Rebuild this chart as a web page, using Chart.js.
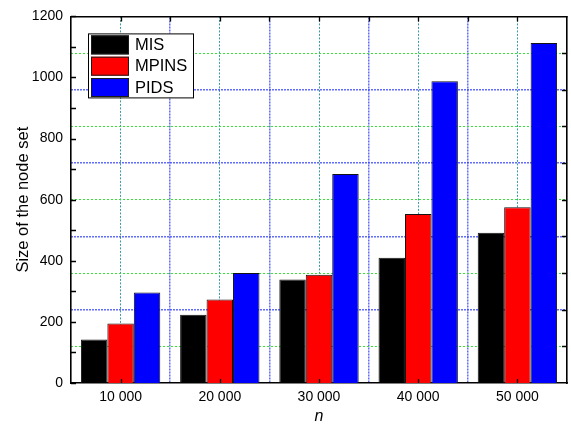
<!DOCTYPE html>
<html>
<head>
<meta charset="utf-8">
<script src="https://cdn.jsdelivr.net/npm/chart.js@4.4.1/dist/chart.umd.min.js"></script>
<style>
  html, body { margin: 0; padding: 0; background: #ffffff; }
  #wrap { width: 571px; height: 425px; position: relative; }
</style>
</head>
<body>
<div id="wrap"><canvas id="c" width="571" height="425"></canvas></div>
<script>
// Network sizes n and the size of the node set found by each method
const nValues = [10000, 20000, 30000, 40000, 50000];
const seriesNames = ['MIS', 'MPINS', 'PIDS'];
const misSizes = [142, 223, 339, 410, 492];
const mpinsSizes = [195, 273, 354, 553, 575];
const pidsSizes = [296, 360, 684, 988, 1113];
const seriesColors = ['#000000', '#ff0000', '#0000ff'];

// Axis ticks
const yLabelTicks = [0, 200, 400, 600, 800, 1000, 1200];
const yMinorMarks = [0, 100, 200, 300, 400, 500, 600, 700, 800, 900, 1000, 1100, 1200];
const yGridTicks = [120, 240, 360, 480, 600, 720, 840, 960, 1080];
const xBoundaryTicks = [15000, 25000, 35000, 45000];
const xTopMarks = [10000, 15000, 20000, 25000, 30000, 35000, 40000, 45000, 50000];

const FONT = "'Liberation Sans', Arial, sans-serif";

function groupThousands(v) {
  return String(v).replace(/\B(?=(\d{3})+(?!\d))/g, ' ');
}

const seriesValues = [misSizes, mpinsSizes, pidsSizes];
const datasets = seriesNames.map((name, s) => ({
  label: name,
  data: nValues.map((n, i) => ({ x: n, y: seriesValues[s][i] })),
  backgroundColor: seriesColors[s],
  borderColor: '#141414',
  borderWidth: 1,
  categoryPercentage: 0.8,
  barPercentage: 1.0,
  xAxisID: 'x',
  yAxisID: 'y'
}));

// Inward tick marks on all four sides
const tickMarks = {
  id: 'tickMarks',
  afterDraw(chart) {
    const { ctx, chartArea: a } = chart;
    const y = chart.scales.y, x = chart.scales.x;
    ctx.save();
    ctx.strokeStyle = '#000';
    ctx.lineWidth = 1.3;
    ctx.beginPath();
    yMinorMarks.forEach(v => {
      const p = Math.round(y.getPixelForValue(v)) + 0.5;
      ctx.moveTo(a.left, p); ctx.lineTo(a.left + 5, p);
    });
    yGridTicks.forEach(v => {
      const p = Math.round(y.getPixelForValue(v)) + 0.5;
      ctx.moveTo(a.right, p); ctx.lineTo(a.right - 5, p);
    });
    xTopMarks.forEach(v => {
      const p = Math.round(x.getPixelForValue(v)) + 0.5;
      ctx.moveTo(p, a.top); ctx.lineTo(p, a.top + 5);
    });
    nValues.forEach(v => {
      const p = Math.round(x.getPixelForValue(v)) + 0.5;
      ctx.moveTo(p, a.bottom); ctx.lineTo(p, a.bottom - 4);
    });
    ctx.stroke();
    ctx.restore();
  }
};

// Legend box in the upper-left of the plot area
const boxLegend = {
  id: 'boxLegend',
  afterDraw(chart) {
    const { ctx, chartArea: a } = chart;
    const bx = a.left + 17, by = a.top + 17, bw = 105, bh = 64;
    ctx.save();
    ctx.fillStyle = '#ffffff';
    ctx.fillRect(bx, by, bw, bh);
    ctx.strokeStyle = '#000';
    ctx.lineWidth = 1;
    ctx.strokeRect(bx + 0.5, by + 0.5, bw, bh);
    ctx.font = '16.5px ' + FONT;
    ctx.textBaseline = 'middle';
    ctx.textAlign = 'left';
    chart.data.datasets.forEach((ds, i) => {
      const sy = by + 2 + i * 21.3;
      ctx.fillStyle = ds.backgroundColor;
      ctx.fillRect(bx + 3, sy, 38, 19);
      ctx.strokeStyle = '#1a1a1a';
      ctx.strokeRect(bx + 3.5, sy + 0.5, 37, 18);
      ctx.fillStyle = '#000';
      ctx.fillText(ds.label, bx + 47, sy + 10);
    });
    ctx.restore();
  }
};

const blueLine = 'rgba(45, 60, 245, 0.75)';
const greenLine = 'rgba(40, 225, 40, 0.95)';
const tealLine = 'rgba(20, 140, 150, 0.85)';

new Chart(document.getElementById('c'), {
  type: 'bar',
  data: { datasets },
  options: {
    responsive: false,
    animation: false,
    devicePixelRatio: 1,
    layout: { padding: 0 },
    plugins: { legend: { display: false }, tooltip: { enabled: false } },
    scales: {
      x: {
        type: 'linear',
        position: 'bottom',
        min: 5000,
        max: 55000,
        offset: false,
        afterBuildTicks: s => { s.ticks = nValues.map(v => ({ value: v })); },
        afterFit: s => { s.height = 42; },
        ticks: {
          callback: v => groupThousands(v),
          font: { family: FONT, size: 14 },
          color: '#000',
          padding: 6,
          maxRotation: 0,
          autoSkip: false
        },
        grid: { offset: false, drawTicks: false, color: tealLine, lineWidth: 1 },
        border: { display: true, color: '#000', width: 1.6, dash: [2, 1.5] },
        title: {
          display: true,
          text: 'n',
          font: { family: FONT, size: 16, style: 'italic' },
          color: '#000',
          padding: { top: 0, bottom: -1.5 }
        }
      },
      x2: {
        type: 'linear',
        position: 'top',
        min: 5000,
        max: 55000,
        offset: false,
        afterBuildTicks: s => { s.ticks = xBoundaryTicks.map(v => ({ value: v })); },
        afterFit: s => { s.height = 15; },
        ticks: { display: false },
        grid: { offset: false, drawTicks: false, color: blueLine, lineWidth: 1.5 },
        border: { display: true, color: '#000', width: 1.6, dash: [2, 1] }
      },
      y: {
        type: 'linear',
        position: 'left',
        min: 0,
        max: 1200,
        afterBuildTicks: s => { s.ticks = yLabelTicks.map(v => ({ value: v })); },
        afterFit: s => { s.width = 71; },
        ticks: {
          callback: v => String(v),
          font: { family: FONT, size: 14 },
          color: '#000',
          padding: 8
        },
        grid: { display: false, drawTicks: false },
        border: { display: true, color: '#000', width: 1.6 },
        title: {
          display: true,
          text: 'Size of the node set',
          font: { family: FONT, size: 16.5 },
          color: '#000',
          padding: { top: 14, bottom: 0 }
        }
      },
      y2: {
        type: 'linear',
        position: 'right',
        min: 0,
        max: 1200,
        afterBuildTicks: s => { s.ticks = yGridTicks.map(v => ({ value: v })); },
        afterFit: s => { s.width = 4; },
        ticks: { display: false },
        grid: {
          drawTicks: false,
          color: c => (c.tick && c.tick.value % 240 === 0) ? blueLine : greenLine,
          lineWidth: c => (c.tick && c.tick.value % 240 === 0) ? 1.5 : 1
        },
        border: {
          display: true, color: '#000', width: 1.6,
          dash: c => (c.tick && c.tick.value % 240 === 0) ? [2, 1] : [2, 2]
        }
      }
    }
  },
  plugins: [tickMarks, boxLegend]
});
</script>
</body>
</html>
